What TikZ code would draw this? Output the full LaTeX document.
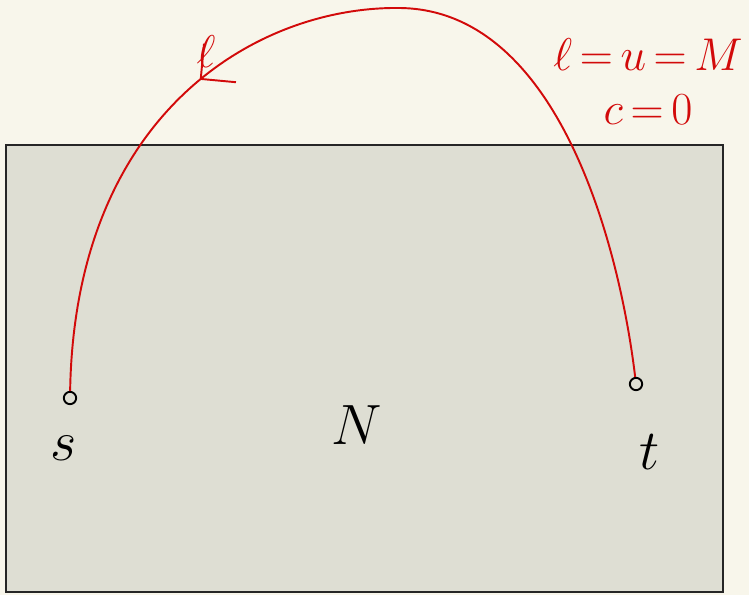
\documentclass[tikz,border=0pt]{standalone}
\usetikzlibrary{arrows.meta,decorations.markings}
\definecolor{skbg}{RGB}{248,246,235}
\definecolor{skbox}{RGB}{222,222,211}
\definecolor{skred}{RGB}{210,10,10}
\begin{document}
\begin{tikzpicture}[x=0.02cm,y=-0.02cm,
  vertex/.style={circle,draw=black,line width=1.1pt,inner sep=0pt,minimum size=7pt},
  hand/.style={font=\Huge,scale=1.3},
  note/.style={text=skred,font=\Huge,scale=1.05},
  flowarc/.style={draw=skred,line width=1.1pt,postaction={decorate},
    decoration={markings,mark=at position 0.665 with {\arrow{Straight Barb[length=5mm,width=10mm,line width=1.1pt]}}}}]
  % --- paper and network box ---
  \fill[skbg] (0,0) rectangle (749,595);
  \useasboundingbox (0,0) rectangle (749,595);
  \draw[fill=skbox,draw=black!85,line width=0.8pt] (6,145) rectangle (723,592);
  % --- terminals ---
  \node[vertex] (s) at (70,398) {};
  \node[vertex] (t) at (636,384) {};
  \node[hand] (slab) at (64,448) {$s$};
  \node[hand] (tlab) at (650,452) {$t$};
  \node[hand] (net) at (357,425) {$N$};
  % --- return arc t -> s ---
  \coordinate (apex) at (400,8);
  \draw[flowarc] (t) .. controls (620,250) and (560,10) .. (apex)
    .. controls (260,6) and (75,110) .. (s);
  \node[note] (arclab) at (206,52) {$\ell$};
  \node[note] (bounds) at (648,55) {$\ell\,{=}\,u\,{=}\,M$};
  \node[note] (cost) at (648,110) {$c\,{=}\,0$};
\end{tikzpicture}
\end{document}
